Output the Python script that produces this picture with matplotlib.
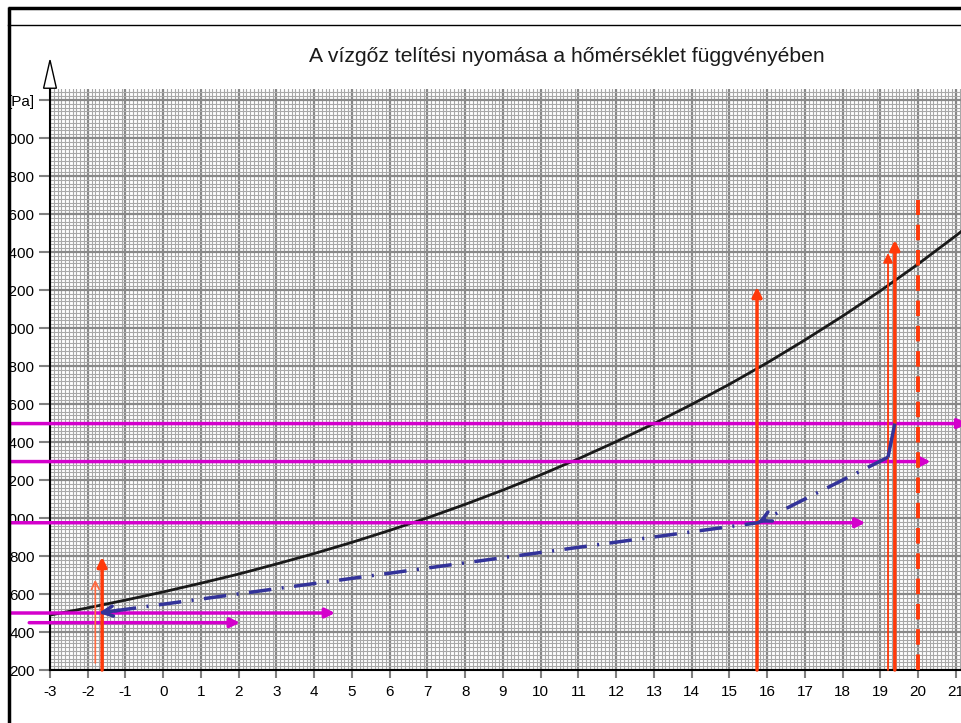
import numpy as np
import matplotlib
matplotlib.use('Agg')
import matplotlib.pyplot as plt
from matplotlib.patches import Polygon, Rectangle
from matplotlib.lines import Line2D

plt.rcParams['font.family'] = ['Liberation Sans', 'DejaVu Sans']
plt.rcParams['axes.unicode_minus'] = False

# saturation vapour pressure curve (°C -> Pa)
temp = [-3, -2, -1, 0, 1, 2, 3, 4, 5, 6, 7, 8, 9, 10, 11, 12,
        13, 14, 15, 16, 17, 18, 19, 20, 21, 22]
p_sat = [489, 527, 568, 611, 657, 705, 758, 813, 872, 935, 1001, 1072, 1147,
         1227, 1312, 1402, 1497, 1598, 1704, 1817, 1937, 2063, 2196, 2337,
         2486, 2643]

# magenta horizontal arrows: (pressure, x start, x end)
h_levels = [1497, 1297, 975, 500, 449]
h_start = [-4.1, -4.1, -4.1, -4.1, -3.55]
h_end = [21.3, 20.33, 18.6, 4.55, 2.03]

# red vertical arrows: (temperature, top pressure, bottom)
v_temp = [-1.8, -1.62, 15.73, 19.2, 19.38]
v_top = [675, 795, 2216, 2395, 2463]
v_bottom = [237, 200, 200, 200, 200]
v_thin = [True, False, False, True, False]

dashed_temp = 20.0
dashed_top = 2675

# blue dash-dot path (temperature, pressure)
blue_t = [19.38, 19.2, 15.75, -1.7]
blue_p = [1497, 1320, 975, 500]

x_ticks = list(range(-3, 22))
y_ticks = list(range(200, 3201, 200))
y_labels = [str(v) for v in y_ticks[:-1]] + ['[Pa]']

fig = plt.figure(figsize=(9.62, 7.23), dpi=100)
ax = fig.add_axes([50 / 962, 53 / 723, 1 - 50 / 962, (670 - 89) / 723])
ax.set_xlim(-3, 21.16)
ax.set_ylim(200, 3258)

# graph-paper grid
ax.set_xticks(x_ticks)
ax.set_xticks(np.arange(-3, 21.2, 0.1), minor=True)
ax.set_yticks(y_ticks)
ax.set_yticks(np.arange(200, 3260, 20), minor=True)
ax.set_yticklabels(y_labels)
ax.grid(which='minor', color='#a8a8a8', lw=0.8)
ax.grid(which='major', color='#888888', lw=1.6)
ax.set_axisbelow(True)
ax.tick_params(which='minor', length=0)
ax.tick_params(axis='x', which='major', length=6, width=1.5, color='#808080',
               labelsize=11, pad=5)
ax.tick_params(axis='y', which='major', length=8, width=1.5, color='#808080',
               labelsize=11, pad=3)
for s in ['top', 'right']:
    ax.spines[s].set_visible(False)
for s in ['left', 'bottom']:
    ax.spines[s].set_linestyle((0, (1, 1)))
    ax.spines[s].set_linewidth(1.5)

# saturation curve
ax.plot(temp, p_sat, color='#1a1a1a', lw=2, zorder=4)

red = '#ff3a0a'
light_red = '#ff6a40'
mag = '#d400cc'
blue = '#33339a'

# magenta arrows
for y, x0, x1 in zip(h_levels, h_start, h_end):
    ax.annotate('', xy=(x1, y), xytext=(x0, y), annotation_clip=False,
                arrowprops=dict(arrowstyle='-|>', color=mag, lw=2.5,
                                mutation_scale=14, shrinkA=0, shrinkB=0),
                zorder=5)

# red vertical arrows
for x, top, bot, thin in zip(v_temp, v_top, v_bottom, v_thin):
    if thin and x < 0:
        style, lw, col = '->', 1.2, light_red
    elif thin:
        style, lw, col = '-|>', 1.3, red
    else:
        style, lw, col = '-|>', 2.5, red
    ax.annotate('', xy=(x, top), xytext=(x, bot), annotation_clip=False,
                arrowprops=dict(arrowstyle=style, color=col, lw=lw,
                                mutation_scale=14, shrinkA=0, shrinkB=0),
                zorder=6)

ax.plot([dashed_temp, dashed_temp], [200, dashed_top], color=red, lw=2.8,
        ls=(0, (4, 2.5)), zorder=6)

# blue construction path
ax.plot(blue_t[:2], blue_p[:2], color=blue, lw=2.5, zorder=7,
        solid_capstyle='butt')
ax.plot(blue_t[1:], blue_p[1:], color=blue, lw=2.5, zorder=7,
        ls=(0, (6.5, 3, 0.6, 3)))
for i in [2, 3]:
    t0, p0 = blue_t[i - 1], blue_p[i - 1]
    t1, p1 = blue_t[i], blue_p[i]
    f = 0.04 if i == 2 else 0.03
    ax.annotate('', xy=(t1, p1), xytext=(t1 + (t0 - t1) * f, p1 + (p0 - p1) * f),
                arrowprops=dict(arrowstyle='->', color=blue, lw=2.5,
                                mutation_scale=18, shrinkA=0, shrinkB=0),
                zorder=7)

# y axis arrow head
ax.add_patch(Polygon([(-3.17, 3262), (-2.83, 3262), (-3.0, 3410)],
                     closed=True, fill=False, ec='black', lw=1,
                     clip_on=False))

fig.text(567 / 962, 1 - 57 / 723,
         'A vízgőz telítési nyomása a hőmérséklet függvényében',
         ha='center', va='center', fontsize=15.2, color='#1a1a1a')

# page frame
fig.patches.append(Rectangle((0, 0), 8 / 962, 1, transform=fig.transFigure,
                             fc='white', ec='none', zorder=10))
fig.lines.append(Line2D([9 / 962, 9 / 962], [0, 1 - 7 / 723],
                        transform=fig.transFigure, color='black', lw=2.5,
                        solid_capstyle='butt', zorder=11))
fig.lines.append(Line2D([8 / 962, 1], [1 - 8 / 723, 1 - 8 / 723],
                        transform=fig.transFigure, color='black', lw=2.5,
                        solid_capstyle='butt', zorder=11))
fig.lines.append(Line2D([8 / 962, 1], [1 - 25 / 723, 1 - 25 / 723],
                        transform=fig.transFigure, color='black', lw=1,
                        zorder=11))

fig.savefig('out.png', dpi=100)
